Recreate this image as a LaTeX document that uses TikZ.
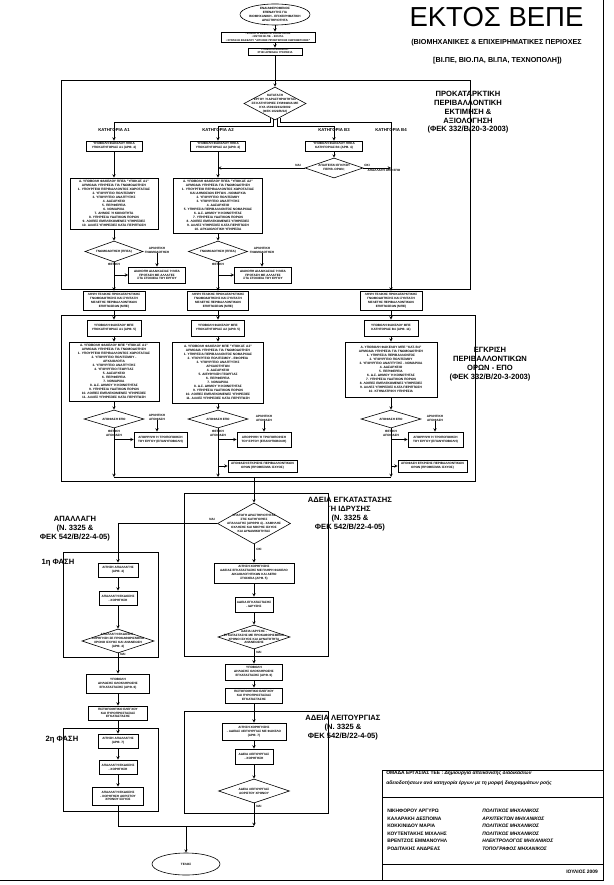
\documentclass[tikz,border=0pt]{standalone}
\usepackage{fontspec}
\setmainfont{Liberation Sans}
\usetikzlibrary{shapes}

\begin{document}
\begin{tikzpicture}[x=1pt,y=-1pt,>=stealth,line width=0.5pt]
\tikzstyle{blk}=[rectangle,draw,line width=0.9pt,fill=white,align=center,inner sep=0.4pt,font=\fontsize{3.1}{3.9}\selectfont\bfseries]
\tikzstyle{big}=[blk,font=\fontsize{3.2}{4.05}\selectfont\bfseries]
\tikzstyle{dec}=[diamond,draw,line width=0.6pt,inner sep=0pt]
\tikzstyle{trm}=[ellipse,draw,line width=0.6pt,inner sep=0pt]
\tikzstyle{tx}=[align=center,inner sep=0pt,font=\fontsize{3.1}{3.9}\selectfont\bfseries]
\tikzstyle{cat}=[inner sep=0pt,font=\fontsize{4.3}{5}\selectfont\bfseries]
\tikzstyle{lbl}=[align=center,inner sep=0pt,font=\fontsize{7.6}{8.8}\selectfont\bfseries]
\tikzstyle{zone}=[draw,line width=0.7pt]
\tikzstyle{tbl}=[anchor=west,inner sep=0pt,font=\fontsize{4.9}{6}\selectfont\bfseries]
\useasboundingbox (0,0) rectangle (613,885);

\draw[zone] (61,80) rectangle (470,289);
\draw[zone] (61,315) rectangle (475,481);
\draw[zone] (184,493) rectangle (328,656);
\draw[zone] (63,552) rectangle (158,657);
\draw[zone] (63,728) rectangle (158,811);
\draw[zone] (184,711) rectangle (328,813);
\draw[line width=0.8pt] (382,770) rectangle (603,880);
\draw (382,797) -- (603,797);
\draw (382,864) -- (603,864);
\draw[line width=0.9pt] (603,0) |- (0,880);

\node[inner sep=0pt,font=\fontsize{27.5}{30}\selectfont] (ttl) at (496.5,17.5) {ΕΚΤΟΣ ΒΕΠΕ};
\node[inner sep=0pt,font=\fontsize{7.2}{8}\selectfont\bfseries] (sub1) at (496.5,43) {(ΒΙΟΜΗΧΑΝΙΚΕΣ \& ΕΠΙΧΕΙΡΗΜΑΤΙΚΕΣ ΠΕΡΙΟΧΕΣ};
\node[inner sep=0pt,font=\fontsize{7.2}{8}\selectfont\bfseries] (sub2) at (497.5,61) {[ΒΙ.ΠΕ, ΒΙΟ.ΠΑ, ΒΙ.ΠΑ, ΤΕΧΝΟΠΟΛΗ])};

\node[lbl] (lb1) at (468,112.5) {ΠΡΟΚΑΤΑΡΚΤΙΚΗ\\ΠΕΡΙΒΑΛΛΟΝΤΙΚΗ\\ΕΚΤΙΜΗΣΗ \&\\ΑΞΙΟΛΟΓΗΣΗ\\(ΦΕΚ 332/Β/20-3-2003)};
\node[lbl] (lb2) at (490,364) {ΕΓΚΡΙΣΗ\\ΠΕΡΙΒΑΛΛΟΝΤΙΚΩΝ\\ΟΡΩΝ - ΕΠΟ\\(ΦΕΚ 332/Β/20-3-2003)};
\node[lbl] (lb3) at (350,514) {ΑΔΕΙΑ ΕΓΚΑΤΑΣΤΑΣΗΣ\\Ή ΙΔΡΥΣΗΣ\\(Ν. 3325 \&\\ΦΕΚ 542/Β/22-4-05)};
\node[lbl] (lb4) at (343,727.5) {ΑΔΕΙΑ ΛΕΙΤΟΥΡΓΙΑΣ\\(Ν. 3325 \&\\ΦΕΚ 542/Β/22-4-05)};
\node[lbl] (lb5) at (75,528.5) {ΑΠΑΛΛΑΓΗ\\(Ν. 3325 \&\\ΦΕΚ 542/Β/22-4-05)};
\node[lbl] (ph1) at (58,563) {1η ΦΑΣΗ};
\node[lbl] (ph2) at (62,740) {2η ΦΑΣΗ};

\node[trm,minimum width=70,minimum height=21] (st) at (275,14.5) {};
\node[tx] (stt) at (st) {ΕΝΔΙΑΦΕΡΟΜΕΝΟΣ\\ΕΠΕΝΔΥΤΗΣ ΓΙΑ\\ΒΙΟΜΗΧΑΝΙΚΗ - ΕΠΙΧΕΙΡΗΜΑΤΙΚΗ\\ΔΡΑΣΤΗΡΙΟΤΗΤΑ};
\node[blk,minimum width=94,minimum height=10,font=\fontsize{2.7}{3.1}\selectfont\bfseries] (t1) at (268,37) {• ΕΠΙΛΟΓΗ ΘΕΣΗΣ ΕΓΚΑΤΑΣΤΑΣΗΣ\\• ΕΝΤΟΣ ΒΙ.ΠΕ. - ΒΙΟ.ΠΑ.\\• ΣΥΝΤΑΞΗ ΦΑΚΕΛΟΥ "ΑΙΤΗΣΗΣ ΠΡΟΕΓΚΡΙΣΗΣ ΧΩΡΟΘΕΤΗΣΗΣ"};
\node[blk,minimum width=54,minimum height=7,font=\fontsize{2.7}{3.1}\selectfont\bfseries] (t2) at (275,51.5) {ΥΠΟΒΟΛΗ ΦΑΚΕΛΟΥ\\ΣΤΗΝ ΑΡΜΟΔΙΑ ΥΠΗΡΕΣΙΑ};

\node[dec,minimum width=62,minimum height=33] (D0) at (275,103.5) {};
\node[tx] (D0t) at (D0) {ΚΑΤΑΤΑΞΗ\\ΕΡΓΟΥ Ή ΔΡΑΣΤΗΡΙΟΤΗΤΑΣ\\ΣΕ ΚΑΤΗΓΟΡΙΕΣ ΣΥΜΦΩΝΑ ΜΕ\\ΚΥΑ 15393/2332/2002\\(ΦΕΚ 1022/Β/02)};
\coordinate (b1) at (114,122);
\coordinate (b2) at (218,126);
\coordinate (b3) at (334,126);
\coordinate (b4) at (391,122);
\node[cat] (ca1) at (114,130) {ΚΑΤΗΓΟΡΙΑ Α1};
\node[cat] (ca2) at (218,130) {ΚΑΤΗΓΟΡΙΑ Α2};
\node[cat] (ca3) at (334,130) {ΚΑΤΗΓΟΡΙΑ Β3};
\node[cat] (ca4) at (391,130) {ΚΑΤΗΓΟΡΙΑ Β4};

\node[blk,minimum width=56,minimum height=10] (C1) at (114,146) {ΥΠΟΒΟΛΗ ΦΑΚΕΛΟΥ ΠΠΕΑ\\ΥΠΟΚΑΤΗΓΟΡΙΑΣ Α1 (ΑΡΘ. 4)};
\node[blk,minimum width=55,minimum height=10] (C2) at (218,146) {ΥΠΟΒΟΛΗ ΦΑΚΕΛΟΥ ΠΠΕΑ\\ΥΠΟΚΑΤΗΓΟΡΙΑΣ Α2 (ΑΡΘ. 4)};
\node[blk,minimum width=57,minimum height=10] (C3) at (334,146) {ΥΠΟΒΟΛΗ ΦΑΚΕΛΟΥ ΠΠΕΑ\\ΚΑΤΗΓΟΡΙΑΣ Β3 (ΑΡΘ. 4)};
\node[dec,minimum width=58,minimum height=20] (Q3) at (334,168) {};
\node[tx] (Q3t) at (Q3) {ΑΠΑΙΤΕΙΤΑΙ ΕΓΚΡΙΣΗ\\ΠΕΡΙΒ. ΟΡΩΝ;};
\node[tx] (ny0) at (298,165.5) {ΝΑΙ};
\node[tx] (no0) at (367,165.5) {ΟΧΙ};
\node[tx] (ap0) at (384,170.5) {ΑΠΑΛΛΑΓΗ ΑΠΟ ΕΠΟ};

\node[big,minimum width=88,minimum height=51] (C1big) at (114,203.5) {Α. ΥΠΟΒΟΛΗ ΦΑΚΕΛΟΥ ΠΠΕΑ "ΥΠΟΚΑΤ. Α1"\\ΑΡΜΟΔΙΑ ΥΠΗΡΕΣΙΑ ΓΙΑ ΓΝΩΜΟΔΟΤΗΣΗ\\1. ΥΠΟΥΡΓΕΙΟ ΠΕΡΙΒΑΛΛΟΝΤΟΣ ΧΩΡΟΤΑΞΙΑΣ\\2. ΥΠΟΥΡΓΕΙΟ ΠΟΛΙΤΙΣΜΟΥ\\3. ΥΠΟΥΡΓΕΙΟ ΑΝΑΠΤΥΞΗΣ\\4. ΔΑΣΑΡΧΕΙΟ\\5. ΠΕΡΙΦΕΡΕΙΑ\\6. ΝΟΜΑΡΧΙΑ\\7. ΔΗΜΟΣ Ή ΚΟΙΝΟΤΗΤΑ\\8. ΥΠΗΡΕΣΙΑ ΥΔΑΤΙΚΩΝ ΠΟΡΩΝ\\9. ΛΟΙΠΕΣ ΕΜΠΛΕΚΟΜΕΝΕΣ ΥΠΗΡΕΣΙΕΣ\\10. ΑΛΛΕΣ ΥΠΗΡΕΣΙΕΣ ΚΑΤΑ ΠΕΡΙΠΤΩΣΗ};
\node[big,minimum width=89,minimum height=55] (C2big) at (218,205.5) {Α. ΥΠΟΒΟΛΗ ΦΑΚΕΛΟΥ ΠΠΕΑ "ΥΠΟΚΑΤ. Α2"\\ΑΡΜΟΔΙΑ ΥΠΗΡΕΣΙΑ ΓΙΑ ΓΝΩΜΟΔΟΤΗΣΗ\\1. ΥΠΟΥΡΓΕΙΟ ΠΕΡΙΒΑΛΛΟΝΤΟΣ ΧΩΡΟΤΑΞΙΑΣ\\ΚΑΙ ΔΗΜΟΣΙΩΝ ΕΡΓΩΝ - ΝΟΜΑΡΧΙΑ\\2. ΥΠΟΥΡΓΕΙΟ ΠΟΛΙΤΙΣΜΟΥ\\3. ΥΠΟΥΡΓΕΙΟ ΑΝΑΠΤΥΞΗΣ\\4. ΔΑΣΑΡΧΕΙΟ\\5. ΥΠΗΡΕΣΙΑ ΠΕΡΙΒΑΛΛΟΝΤΟΣ ΝΟΜΑΡΧΙΑΣ\\6. Δ.Σ. ΔΗΜΟΥ Ή ΚΟΙΝΟΤΗΤΑΣ\\7. ΥΠΗΡΕΣΙΑ ΥΔΑΤΙΚΩΝ ΠΟΡΩΝ\\8. ΛΟΙΠΕΣ ΕΜΠΛΕΚΟΜΕΝΕΣ ΥΠΗΡΕΣΙΕΣ\\9. ΑΛΛΕΣ ΥΠΗΡΕΣΙΕΣ ΚΑΤΑ ΠΕΡΙΠΤΩΣΗ\\10. ΑΡΧΑΙΟΛΟΓΙΚΗ ΥΠΗΡΕΣΙΑ};

\node[dec,minimum width=58,minimum height=21] (S1a) at (114,251.5) {};
\node[tx] (S1at) at (S1a) {ΓΝΩΜΟΔΟΤΗΣΗ (ΠΠΕΑ)};
\node[dec,minimum width=59,minimum height=21] (S1b) at (218,251.5) {};
\node[tx] (S1bt) at (S1b) {ΓΝΩΜΟΔΟΤΗΣΗ (ΠΠΕΑ)};
\node[tx] (ng1) at (157,250) {ΑΡΝΗΤΙΚΗ\\ΓΝΩΜΟΔΟΤΗΣΗ};
\node[tx] (ng2) at (262,250) {ΑΡΝΗΤΙΚΗ\\ΓΝΩΜΟΔΟΤΗΣΗ};
\node[tx] (ps1) at (114,264) {ΘΕΤΙΚΗ};
\node[tx] (ps2) at (218,264) {ΘΕΤΙΚΗ};
\node[blk,minimum width=57,minimum height=16] (N1) at (157,275) {ΔΙΑΚΟΠΗ ΔΙΑΔΙΚΑΣΙΑΣ Ή ΝΕΑ\\ΠΡΟΤΑΣΗ ΜΕ ΑΛΛΑΓΕΣ\\ΣΤΑ ΣΤΟΙΧΕΙΑ ΤΟΥ ΕΡΓΟΥ};
\node[blk,minimum width=57,minimum height=16] (N2) at (263,275) {ΔΙΑΚΟΠΗ ΔΙΑΔΙΚΑΣΙΑΣ Ή ΝΕΑ\\ΠΡΟΤΑΣΗ ΜΕ ΑΛΛΑΓΕΣ\\ΣΤΑ ΣΤΟΙΧΕΙΑ ΤΟΥ ΕΡΓΟΥ};

\node[blk,minimum width=62,minimum height=19] (M1) at (114,300.5) {ΛΗΨΗ ΤΕΛΙΚΗΣ ΠΡΟΚΑΤΑΡΚΤΙΚΗΣ\\ΓΝΩΜΟΔΟΤΗΣΗΣ ΚΑΙ ΣΥΝΤΑΞΗ\\ΜΕΛΕΤΗΣ ΠΕΡΙΒΑΛΛΟΝΤΙΚΩΝ\\ΕΠΙΠΤΩΣΕΩΝ (ΜΠΕ)};
\node[blk,minimum width=61,minimum height=19] (M2) at (218,300.5) {ΛΗΨΗ ΤΕΛΙΚΗΣ ΠΡΟΚΑΤΑΡΚΤΙΚΗΣ\\ΓΝΩΜΟΔΟΤΗΣΗΣ ΚΑΙ ΣΥΝΤΑΞΗ\\ΜΕΛΕΤΗΣ ΠΕΡΙΒΑΛΛΟΝΤΙΚΩΝ\\ΕΠΙΠΤΩΣΕΩΝ (ΜΠΕ)};
\node[blk,minimum width=62,minimum height=19] (M3) at (391,300.5) {ΛΗΨΗ ΤΕΛΙΚΗΣ ΠΡΟΚΑΤΑΡΚΤΙΚΗΣ\\ΓΝΩΜΟΔΟΤΗΣΗΣ ΚΑΙ ΣΥΝΤΑΞΗ\\ΜΕΛΕΤΗΣ ΠΕΡΙΒΑΛΛΟΝΤΙΚΩΝ\\ΕΠΙΠΤΩΣΕΩΝ (ΜΠΕ)};

\node[blk,minimum width=54,minimum height=16] (E1) at (114,328) {ΥΠΟΒΟΛΗ ΦΑΚΕΛΟΥ ΜΠΕ\\ΥΠΟΚΑΤΗΓΟΡΙΑΣ Α1 (ΑΡΘ. 5)};
\node[blk,minimum width=53,minimum height=16] (E2) at (218,328) {ΥΠΟΒΟΛΗ ΦΑΚΕΛΟΥ ΜΠΕ\\ΥΠΟΚΑΤΗΓΟΡΙΑΣ Α2 (ΑΡΘ. 5)};
\node[blk,minimum width=54,minimum height=16] (E3) at (391,328) {ΥΠΟΒΟΛΗ ΦΑΚΕΛΟΥ ΜΠΕ\\ΚΑΤΗΓΟΡΙΑΣ Β4 (ΑΡΘ. 11)};

\node[big,minimum width=90,minimum height=59] (F1) at (114,371.5) {Α. ΥΠΟΒΟΛΗ ΦΑΚΕΛΟΥ ΜΠΕ "ΥΠΟΚΑΤ. Α1"\\ΑΡΜΟΔΙΑ ΥΠΗΡΕΣΙΑ ΓΙΑ ΓΝΩΜΟΔΟΤΗΣΗ\\1. ΥΠΟΥΡΓΕΙΟ ΠΕΡΙΒΑΛΛΟΝΤΟΣ ΧΩΡΟΤΑΞΙΑΣ\\2. ΥΠΟΥΡΓΕΙΟ ΠΟΛΙΤΙΣΜΟΥ -\\ΑΡΧΑΙΟΛΟΓΙΑ\\3. ΥΠΟΥΡΓΕΙΟ ΑΝΑΠΤΥΞΗΣ\\4. ΥΠΟΥΡΓΕΙΟ ΓΕΩΡΓΙΑΣ\\5. ΔΑΣΑΡΧΕΙΟ\\6. ΠΕΡΙΦΕΡΕΙΑ\\7. ΝΟΜΑΡΧΙΑ\\8. Δ.Σ. ΔΗΜΟΥ Ή ΚΟΙΝΟΤΗΤΑΣ\\9. ΥΠΗΡΕΣΙΑ ΥΔΑΤΙΚΩΝ ΠΟΡΩΝ\\10. ΛΟΙΠΕΣ ΕΜΠΛΕΚΟΜΕΝΕΣ ΥΠΗΡΕΣΙΕΣ\\11. ΑΛΛΕΣ ΥΠΗΡΕΣΙΕΣ ΚΑΤΑ ΠΕΡΙΠΤΩΣΗ};
\node[big,minimum width=91,minimum height=61] (F2) at (218,372.5) {Α. ΥΠΟΒΟΛΗ ΦΑΚΕΛΟΥ ΜΠΕ "ΥΠΟΚΑΤ. Α2"\\ΑΡΜΟΔΙΑ ΥΠΗΡΕΣΙΑ ΓΙΑ ΓΝΩΜΟΔΟΤΗΣΗ\\1. ΥΠΗΡΕΣΙΑ ΠΕΡΙΒΑΛΛΟΝΤΟΣ ΝΟΜΑΡΧΙΑΣ\\2. ΥΠΟΥΡΓΕΙΟ ΠΟΛΙΤΙΣΜΟΥ - ΕΦΟΡΕΙΑ\\3. ΥΠΟΥΡΓΕΙΟ ΑΝΑΠΤΥΞΗΣ\\ΑΡΧΑΙΟΤΗΤΩΝ\\4. ΔΑΣΑΡΧΕΙΟ\\5. ΔΙΕΥΘΥΝΣΗ ΓΕΩΡΓΙΑΣ\\6. ΠΕΡΙΦΕΡΕΙΑ\\7. ΝΟΜΑΡΧΙΑ\\8. Δ.Σ. ΔΗΜΟΥ Ή ΚΟΙΝΟΤΗΤΑΣ\\9. ΥΠΗΡΕΣΙΑ ΥΔΑΤΙΚΩΝ ΠΟΡΩΝ\\10. ΛΟΙΠΕΣ ΕΜΠΛΕΚΟΜΕΝΕΣ ΥΠΗΡΕΣΙΕΣ\\11. ΑΛΛΕΣ ΥΠΗΡΕΣΙΕΣ ΚΑΤΑ ΠΕΡΙΠΤΩΣΗ};
\node[big,minimum width=92,minimum height=55] (F3) at (391,369.5) {Α. ΥΠΟΒΟΛΗ ΦΑΚΕΛΟΥ ΜΠΕ "ΚΑΤ. Β4"\\ΑΡΜΟΔΙΑ ΥΠΗΡΕΣΙΑ ΓΙΑ ΓΝΩΜΟΔΟΤΗΣΗ\\1. ΥΠΗΡΕΣΙΑ ΠΕΡΙΒΑΛΛΟΝΤΟΣ\\2. ΥΠΟΥΡΓΕΙΟ ΠΟΛΙΤΙΣΜΟΥ\\3. ΥΠΟΥΡΓΕΙΟ ΑΝΑΠΤΥΞΗΣ - ΝΟΜΑΡΧΙΑ\\4. ΔΑΣΑΡΧΕΙΟ\\5. ΠΕΡΙΦΕΡΕΙΑ\\6. Δ.Σ. ΔΗΜΟΥ Ή ΚΟΙΝΟΤΗΤΑΣ\\7. ΥΠΗΡΕΣΙΑ ΥΔΑΤΙΚΩΝ ΠΟΡΩΝ\\8. ΛΟΙΠΕΣ ΕΜΠΛΕΚΟΜΕΝΕΣ ΥΠΗΡΕΣΙΕΣ\\9. ΑΛΛΕΣ ΥΠΗΡΕΣΙΕΣ ΚΑΤΑ ΠΕΡΙΠΤΩΣΗ\\10. ΚΤΗΝΙΑΤΡΙΚΗ ΥΠΗΡΕΣΙΑ};

\node[dec,minimum width=60,minimum height=18] (G1) at (114,419) {};
\node[tx] (G1t) at (G1) {ΑΠΟΦΑΣΗ ΕΠΟ};
\node[dec,minimum width=60,minimum height=18] (G2) at (218,419) {};
\node[tx] (G2t) at (G2) {ΑΠΟΦΑΣΗ ΕΠΟ};
\node[dec,minimum width=60,minimum height=18] (G3) at (391,419) {};
\node[tx] (G3t) at (G3) {ΑΠΟΦΑΣΗ ΕΠΟ};
\node[tx] (ng3) at (157,417) {ΑΡΝΗΤΙΚΗ\\ΑΠΟΦΑΣΗ};
\node[tx] (ng4) at (264,418) {ΑΡΝΗΤΙΚΗ\\ΑΠΟΦΑΣΗ};
\node[tx] (ng5) at (435,418) {ΑΡΝΗΤΙΚΗ\\ΑΠΟΦΑΣΗ};
\node[tx] (ps3) at (114,433) {ΘΕΤΙΚΗ\\ΑΠΟΦΑΣΗ};
\node[tx] (ps4) at (218,433) {ΘΕΤΙΚΗ\\ΑΠΟΦΑΣΗ};
\node[tx] (ps5) at (391,433) {ΘΕΤΙΚΗ\\ΑΠΟΦΑΣΗ};
\node[blk,minimum width=53,minimum height=15] (H1) at (160.5,439.5) {ΑΠΟΡΡΙΨΗ Ή ΤΡΟΠΟΠΟΙΗΣΗ\\ΤΟΥ ΕΡΓΟΥ (ΕΠΑΝΥΠΟΒΟΛΗ)};
\node[blk,minimum width=54,minimum height=15] (H2) at (264,439.5) {ΑΠΟΡΡΙΨΗ Ή ΤΡΟΠΟΠΟΙΗΣΗ\\ΤΟΥ ΕΡΓΟΥ (ΕΠΑΝΥΠΟΒΟΛΗ)};
\node[blk,minimum width=55,minimum height=15] (H3) at (435.5,439.5) {ΑΠΟΡΡΙΨΗ Ή ΤΡΟΠΟΠΟΙΗΣΗ\\ΤΟΥ ΕΡΓΟΥ (ΕΠΑΝΥΠΟΒΟΛΗ)};
\node[blk,minimum width=69,minimum height=12] (K2) at (262.5,466) {ΑΠΟΦΑΣΗ ΕΓΚΡΙΣΗΣ ΠΕΡΙΒΑΛΛΟΝΤΙΚΩΝ\\ΟΡΩΝ (ΠΡΟΘΕΣΜΙΑ ΙΣΧΥΟΣ)};
\node[blk,minimum width=69,minimum height=12] (K3) at (432.5,466) {ΑΠΟΦΑΣΗ ΕΓΚΡΙΣΗΣ ΠΕΡΙΒΑΛΛΟΝΤΙΚΩΝ\\ΟΡΩΝ (ΠΡΟΘΕΣΜΙΑ ΙΣΧΥΟΣ)};
\coordinate (cl) at (254,477);

\node[dec,minimum width=73,minimum height=41] (DE) at (254,523.5) {};
\node[tx] (DEt) at (DE) {ΥΠΑΓΩΓΗ ΔΡΑΣΤΗΡΙΟΤΗΤΑΣ\\ΣΤΙΣ ΚΑΤΗΓΟΡΙΕΣ\\ΑΠΑΛΛΑΓΗΣ (ΑΡΘΡΟ 4) - ΧΑΜΗΛΗΣ\\ΟΧΛΗΣΗΣ ΚΑΙ ΜΙΚΡΗΣ ΙΣΧΥΟΣ\\ΚΑΙ ΔΥΝΑΜΙΚΟΤΗΤΑΣ};
\node[tx] (ny1) at (212,519.5) {ΝΑΙ};
\node[tx,anchor=west] (no1) at (256,549) {ΟΧΙ};
\node[blk,minimum width=80,minimum height=20] (A) at (254,573) {ΑΙΤΗΣΗ ΧΟΡΗΓΗΣΗΣ\\ΑΔΕΙΑΣ ΕΓΚΑΤΑΣΤΑΣΗΣ ΜΕ ΠΛΗΡΗ ΦΑΚΕΛΟ\\ΔΙΚΑΙΟΛΟΓΗΤΙΚΩΝ ΚΑΙ ΑΕΠΟ\\ΣΤΟΙΧΕΙΑ (ΑΡΘ. 5)};
\node[blk,minimum width=38,minimum height=15] (B) at (254,604.5) {ΑΔΕΙΑ ΕΓΚΑΤΑΣΤΑΣΗΣ\\- ΙΔΡΥΣΗΣ};
\node[dec,minimum width=72,minimum height=24] (DE2) at (254,637) {};
\node[tx] (DE2t) at (DE2) {ΑΔΕΙΑ ΙΔΡΥΣΗΣ -\\ΕΓΚΑΤΑΣΤΑΣΗΣ ΜΕ ΠΡΟΚΑΘΟΡΙΣΜΕΝΟ\\ΧΡΟΝΟ ΙΣΧΥΟΣ ΚΑΙ ΔΥΝΑΤΟΤΗΤΑ\\ΑΝΑΝΕΩΣΗΣ};
\node[tx,anchor=west] (ny2) at (256,652) {ΝΑΙ};
\node[blk,minimum width=57,minimum height=16] (R1) at (254,672) {ΥΠΟΒΟΛΗ\\ΔΗΛΩΣΗΣ ΟΛΟΚΛΗΡΩΣΗΣ\\ΕΓΚΑΤΑΣΤΑΣΗΣ (ΑΡΘ. 6)};
\node[blk,minimum width=57,minimum height=15] (R2) at (254,695.5) {ΠΙΣΤΟΠΟΙΗΤΙΚΟ ΕΛΕΓΧΟΥ\\ΚΑΙ ΠΥΡΟΠΡΟΣΤΑΣΙΑΣ\\ΕΓΚΑΤΑΣΤΑΣΗΣ};
\node[blk,minimum width=64,minimum height=17] (R3) at (254,731.5) {ΑΙΤΗΣΗ ΧΟΡΗΓΗΣΗΣ\\- ΑΔΕΙΑΣ ΛΕΙΤΟΥΡΓΙΑΣ ΜΕ ΦΑΚΕΛΟ\\(ΑΡΘ. 7)};
\node[blk,minimum width=38,minimum height=15] (R4) at (254,756.5) {ΑΔΕΙΑ ΛΕΙΤΟΥΡΓΙΑΣ\\- ΧΟΡΗΓΗΣΗ};
\node[dec,minimum width=71,minimum height=24] (DR) at (254,791) {};
\node[tx] (DRt) at (DR) {ΑΔΕΙΑ ΛΕΙΤΟΥΡΓΙΑΣ\\ΑΟΡΙΣΤΟΥ ΧΡΟΝΟΥ};
\node[tx,anchor=west] (ny3) at (256,806) {ΝΑΙ};

\node[blk,minimum width=40,minimum height=14] (L1) at (118,570) {ΑΙΤΗΣΗ ΑΠΑΛΛΑΓΗΣ\\(ΑΡΘ. 4)};
\node[blk,minimum width=38,minimum height=14] (L2) at (118,598) {ΑΠΑΛΛΑΓΗ ΕΚΔΟΣΗΣ\\- ΧΟΡΗΓΗΣΗ};
\node[dec,minimum width=72,minimum height=24] (DL) at (118,641) {};
\node[tx] (DLt) at (DL) {ΑΠΑΛΛΑΓΗ ΕΚΔΟΣΗΣ -\\ΧΟΡΗΓΗΣΗ ΣΕ ΠΡΟΚΑΘΟΡΙΣΜΕΝΟ\\ΧΡΟΝΟ ΙΣΧΥΟΣ ΚΑΙ ΑΝΑΝΕΩΣΗ\\(ΑΡΘ. 4)};
\node[tx,anchor=west] (ny4) at (120,654.5) {ΝΑΙ};
\node[blk,minimum width=63,minimum height=19] (L3) at (118,683.5) {ΥΠΟΒΟΛΗ\\ΔΗΛΩΣΗΣ ΟΛΟΚΛΗΡΩΣΗΣ\\ΕΓΚΑΤΑΣΤΑΣΗΣ (ΑΡΘ. 6)};
\node[blk,minimum width=59,minimum height=14] (L4) at (118,713) {ΠΙΣΤΟΠΟΙΗΤΙΚΟ ΕΛΕΓΧΟΥ\\ΚΑΙ ΠΥΡΟΠΡΟΣΤΑΣΙΑΣ\\ΕΓΚΑΤΑΣΤΑΣΗΣ};
\node[blk,minimum width=40,minimum height=14] (L5) at (118,741) {ΑΙΤΗΣΗ ΑΠΑΛΛΑΓΗΣ\\(ΑΡΘ. 7)};
\node[blk,minimum width=38,minimum height=14] (L6) at (118,767) {ΑΠΑΛΛΑΓΗ ΕΚΔΟΣΗΣ\\- ΧΟΡΗΓΗΣΗ};
\node[blk,minimum width=51,minimum height=18] (L7) at (118,796) {ΑΠΑΛΛΑΓΗ ΕΚΔΟΣΗΣ\\- ΧΟΡΗΓΗΣΗ ΑΟΡΙΣΤΟΥ\\ΧΡΟΝΟΥ ΙΣΧΥΟΣ};
\coordinate (jr) at (254,826);
\coordinate (je) at (186,826);
\node[trm,minimum width=68,minimum height=22,font=\fontsize{3.1}{3.9}\selectfont\bfseries] (en) at (186,864) {ΤΕΛΟΣ};

\node[tbl] (hd1) at (386,773.5) {ΟΜΑΔΑ ΕΡΓΑΣΙΑΣ ΤΕΕ : \textit{Δημιουργία απεικόνισης διαδικασιών}};
\node[tbl] (hd2) at (386,783.5) {\textit{αδειοδοτήσεων ανά κατηγορία έργων με τη μορφή διαγραμμάτων ροής}};
\node[tbl] (nm1) at (387,811) {ΝΙΚΗΦΟΡΟΥ ΑΡΓΥΡΩ};
\node[tbl] (nm2) at (387,818.5) {ΚΑΛΑΡΑΚΗ ΔΕΣΠΟΙΝΑ};
\node[tbl] (nm3) at (387,826) {ΚΟΚΚΙΝΙΔΟΥ ΜΑΡΙΑ};
\node[tbl] (nm4) at (387,833.5) {ΚΟΥΤΕΝΤΑΚΗΣ ΜΙΧΑΛΗΣ};
\node[tbl] (nm5) at (387,841) {ΒΡΕΝΤΖΟΣ ΕΜΜΑΝΟΥΗΛ};
\node[tbl] (nm6) at (387,848.5) {ΡΟΔΙΤΑΚΗΣ ΑΝΔΡΕΑΣ};
\node[tbl] (pr1) at (482,811) {\textit{ΠΟΛΙΤΙΚΟΣ ΜΗΧΑΝΙΚΟΣ}};
\node[tbl] (pr2) at (482,818.5) {\textit{ΑΡΧΙΤΕΚΤΩΝ ΜΗΧΑΝΙΚΟΣ}};
\node[tbl] (pr3) at (482,826) {\textit{ΠΟΛΙΤΙΚΟΣ ΜΗΧΑΝΙΚΟΣ}};
\node[tbl] (pr4) at (482,833.5) {\textit{ΠΟΛΙΤΙΚΟΣ ΜΗΧΑΝΙΚΟΣ}};
\node[tbl] (pr5) at (482,841) {\textit{ΗΛΕΚΤΡΟΛΟΓΟΣ ΜΗΧΑΝΙΚΟΣ}};
\node[tbl] (pr6) at (482,848.5) {\textit{ΤΟΠΟΓΡΑΦΟΣ ΜΗΧΑΝΙΚΟΣ}};
\node[tbl,anchor=east] (dt) at (598,872) {ΙΟΥΛΙΟΣ 2009};

\draw[->] (st) -- (st |- t1.north);
\draw[->] (t1.south -| st) -- (t2);
\draw[->] (t2) -- (D0);
\draw[->] (D0.250) |- (b1) -- (C1);
\draw[->] (D0.263) |- (b2) -- (C2);
\draw[->] (D0.277) |- (b3) -- (C3);
\draw[->] (D0.290) |- (b4) -- (M3);
\draw[->] (C1) -- (C1big);
\draw[->] (C2) -- (C2big);
\draw[->] (C3) -- (Q3);
\draw[->] (Q3.west) -- (Q3.west -| C2);
\draw[->] (Q3.east) -- (Q3.east -| b4);
\draw[->] (C1big) -- (S1a);
\draw[->] (C2big) -- (S1b);
\draw[->] (S1a) -- (M1);
\draw[->] (S1b) -- (M2);
\draw[->] (ng1) -- (ng1 |- N1.north);
\draw[->] (ng2) -- (ng2 |- N2.north);
\draw[->] (N1.west -| S1a) -- (N1.west);
\draw[->] (N2.west -| S1b) -- (N2.west);
\draw[->] (M1) -- (E1);
\draw[->] (M2) -- (E2);
\draw[->] (M3) -- (E3);
\draw[->] (E1) -- (F1);
\draw[->] (E2) -- (F2);
\draw[->] (E3) -- (F3);
\draw[->] (F1) -- (G1);
\draw[->] (F2) -- (G2);
\draw[->] (F3) -- (G3);
\draw[->] (ng3) -- (ng3 |- H1.north);
\draw[->] (ng4) -- (ng4 |- H2.north);
\draw[->] (ng5) -- (ng5 |- H3.north);
\draw[->] (H1.west -| G1) -- (H1.west);
\draw[->] (H2.west -| G2) -- (H2.west);
\draw[->] (H3.west -| G3) -- (H3.west);
\draw[->] (K2.west -| G2) -- (K2.west);
\draw[->] (K3.west -| G3) -- (K3.west);
\draw[->] (G1) -- (G1 |- cl);
\draw[->] (G2) -- (G2 |- cl);
\draw[->] (G3) -- (G3 |- cl);
\draw (G1 |- cl) -- (G3 |- cl);
\draw[->] (cl) -- (DE);
\draw[->] (DE.west) -| (L1);
\draw[->] (DE) -- (A);
\draw[->] (A) -- (B);
\draw[->] (B) -- (DE2);
\draw[->] (DE2) -- (R1);
\draw[->] (R1) -- (R2);
\draw[->] (R2) -- (R3);
\draw[->] (R3) -- (R4);
\draw[->] (R4) -- (DR);
\draw[->] (DR) -- (jr);
\draw[->] (L1) -- (L2);
\draw[->] (L2) -- (DL);
\draw[->] (DL) -- (L3);
\draw[->] (L3) -- (L4);
\draw[->] (L4) -- (L5);
\draw[->] (L5) -- (L6);
\draw[->] (L6) -- (L7);
\draw (L7) |- (jr);
\draw[->] (je) -- (en);
\end{tikzpicture}
\end{document}
